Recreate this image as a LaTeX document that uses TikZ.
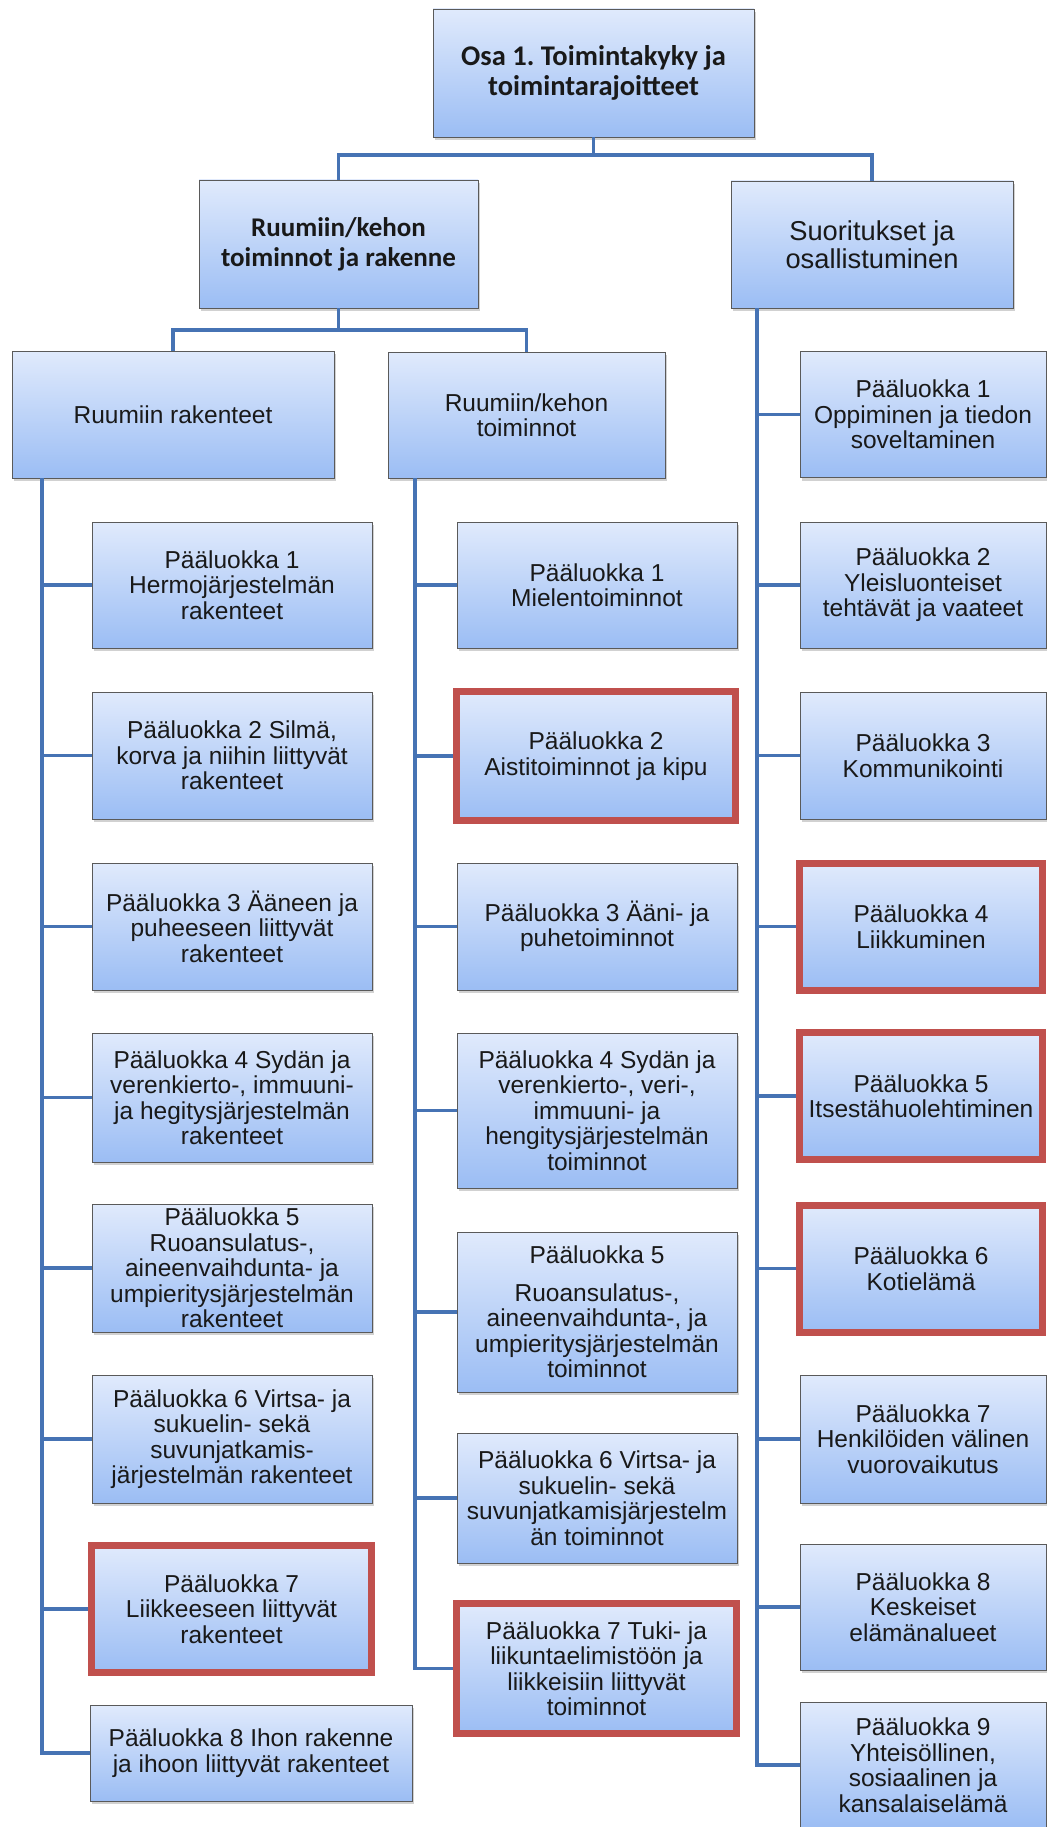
\documentclass[tikz,border=0pt]{standalone}
\usepackage{fontspec}
\setmainfont{Liberation Sans}
\newfontfamily\headfont{Carlito}
\usetikzlibrary{shadows}
\frenchspacing

\definecolor{boxtop}{RGB}{224,234,252}
\definecolor{boxbot}{RGB}{155,189,244}
\definecolor{edgegray}{RGB}{90,90,90}
\definecolor{linkblue}{RGB}{70,115,180}
\definecolor{markred}{RGB}{192,80,77}
\definecolor{inktext}{RGB}{25,25,25}

\tikzset{
  card/.style={rectangle, inner sep=0pt, align=center, text=inktext,
    top color=boxtop, bottom color=boxbot,
    draw=edgegray, line width=0.7pt,
    drop shadow={shadow xshift=2pt, shadow yshift=-3pt, fill=black!40, opacity=0.45},
    font=\fontsize{24.5}{25.5}\selectfont},
  headcard/.style={card, font=\headfont\bfseries\fontsize{27}{30}\selectfont},
  topcard/.style={card, font=\headfont\bfseries\fontsize{28.5}{30}\selectfont},
  bigcard/.style={card, font=\fontsize{27.3}{28}\selectfont},
  hot/.style={draw=markred, line width=7pt},
  conn/.style={draw=linkblue, line width=3.8pt},
}

\begin{document}
\begin{tikzpicture}[x=1pt, y=-1pt]
\useasboundingbox[fill=white] (0,0) rectangle (1046,1827);

% upper levels
\node[topcard, minimum width=321, minimum height=128] (top) at (593.5,73)
  {Osa 1. Toimintakyky ja\\toimintarajoitteet};
\node[headcard, minimum width=279, minimum height=128] (body) at (338.5,244)
  {Ruumiin/kehon\\toiminnot ja rakenne};
\node[bigcard, minimum width=282, minimum height=127] (act) at (872,244.5)
  {Suoritukset ja\\osallistuminen};
\node[card, minimum width=322, minimum height=127] (struct) at (173,414.5)
  {Ruumiin rakenteet};
\node[card, minimum width=277, minimum height=126] (func) at (526.5,415)
  {Ruumiin/kehon\\toiminnot};

% body structures
\node[card, minimum width=280, minimum height=126] (a1) at (232,585)
  {Pääluokka 1\\Hermojärjestelmän\\rakenteet};
\node[card, minimum width=280, minimum height=127] (a2) at (232,755.5)
  {Pääluokka 2 Silmä,\\korva ja niihin liittyvät\\rakenteet};
\node[card, minimum width=280, minimum height=127] (a3) at (232,926.5)
  {Pääluokka 3 Ääneen ja\\puheeseen liittyvät\\rakenteet};
\node[card, minimum width=280, minimum height=129] (a4) at (232,1097.5)
  {Pääluokka 4 Sydän ja\\verenkierto-, immuuni-\\ja hegitysjärjestelmän\\rakenteet};
\node[card, minimum width=280, minimum height=128] (a5) at (232,1268)
  {Pääluokka 5\\Ruoansulatus-,\\aineenvaihdunta- ja\\umpieritysjärjestelmän\\rakenteet};
\node[card, minimum width=280, minimum height=128] (a6) at (232,1439)
  {Pääluokka 6 Virtsa- ja\\sukuelin- sekä\\suvunjatkamis-\\järjestelmän rakenteet};
\node[card, hot, minimum width=280, minimum height=127] (a7) at (231.5,1609)
  {Pääluokka 7\\Liikkeeseen liittyvät\\rakenteet};
\node[card, minimum width=322, minimum height=96] (a8) at (251,1753)
  {Pääluokka 8 Ihon rakenne\\ja ihoon liittyvät rakenteet};

% body functions
\node[card, minimum width=280, minimum height=126] (b1) at (597,585)
  {Pääluokka 1\\Mielentoiminnot};
\node[card, hot, minimum width=279, minimum height=129] (b2) at (596,756)
  {Pääluokka 2\\Aistitoiminnot ja kipu};
\node[card, minimum width=280, minimum height=127] (b3) at (597,926.5)
  {Pääluokka 3 Ääni- ja\\puhetoiminnot};
\node[card, minimum width=280, minimum height=155] (b4) at (597,1110.5)
  {Pääluokka 4 Sydän ja\\verenkierto-, veri-,\\immuuni- ja\\hengitysjärjestelmän\\toiminnot};
\node[card, minimum width=280, minimum height=160] (b5) at (597,1312)
  {Pääluokka 5\\[12pt]Ruoansulatus-,\\aineenvaihdunta-, ja\\umpieritysjärjestelmän\\toiminnot};
\node[card, minimum width=280, minimum height=130] (b6) at (597,1498)
  {Pääluokka 6 Virtsa- ja\\sukuelin- sekä\\suvunjatkamisjärjestelm\\än toiminnot};
\node[card, hot, minimum width=280, minimum height=130] (b7) at (596.5,1668.5)
  {Pääluokka 7 Tuki- ja\\liikuntaelimistöön ja\\liikkeisiin liittyvät\\toiminnot};

% activities and participation
\node[card, minimum width=246, minimum height=126] (c1) at (923,414.5)
  {Pääluokka 1\\Oppiminen ja tiedon\\soveltaminen};
\node[card, minimum width=246, minimum height=126] (c2) at (923,585)
  {Pääluokka 2\\Yleisluonteiset\\tehtävät ja vaateet};
\node[card, minimum width=246, minimum height=127] (c3) at (923,755.5)
  {Pääluokka 3\\Kommunikointi};
\node[card, hot, minimum width=243, minimum height=127] (c4) at (921,926.5)
  {Pääluokka 4\\Liikkuminen};
\node[card, hot, minimum width=243, minimum height=127] (c5) at (921,1096)
  {Pääluokka 5\\Itsestähuolehtiminen};
\node[card, hot, minimum width=243, minimum height=127] (c6) at (921,1268.5)
  {Pääluokka 6\\Kotielämä};
\node[card, minimum width=246, minimum height=128] (c7) at (923,1439)
  {Pääluokka 7\\Henkilöiden välinen\\vuorovaikutus};
\node[card, minimum width=246, minimum height=126] (c8) at (923,1607)
  {Pääluokka 8\\Keskeiset\\elämänalueet};
\node[card, minimum width=246, minimum height=126] (c9) at (923,1765)
  {Pääluokka 9\\Yhteisöllinen,\\sosiaalinen ja\\kansalaiselämä};

% branching between the upper levels
\draw[conn] (top.south) -- ++(0,18) -| (body.north);
\draw[conn] (top.south) -- ++(0,18) -| (act.north);
\draw[conn] (body.south) -- ++(0,22) -| (struct.north);
\draw[conn] (body.south) -- ++(0,22) -| (func.north);

% vertical spines with their branches
\coordinate (sL) at ([xshift=30pt]struct.south west);
\coordinate (sM) at ([xshift=27pt]func.south west);
\coordinate (sR) at ([xshift=26pt]act.south west);

\draw[conn] (sL) |- (a8.west);
\foreach \k in {1,...,7} \draw[conn] (sL |- a\k.west) -- (a\k.west);

\draw[conn] (sM) |- (b7.west);
\foreach \k in {1,...,6} \draw[conn] (sM |- b\k.west) -- (b\k.west);

\draw[conn] (sR) |- (c9.west);
\foreach \k in {1,...,8} \draw[conn] (sR |- c\k.west) -- (c\k.west);
\end{tikzpicture}
\end{document}
